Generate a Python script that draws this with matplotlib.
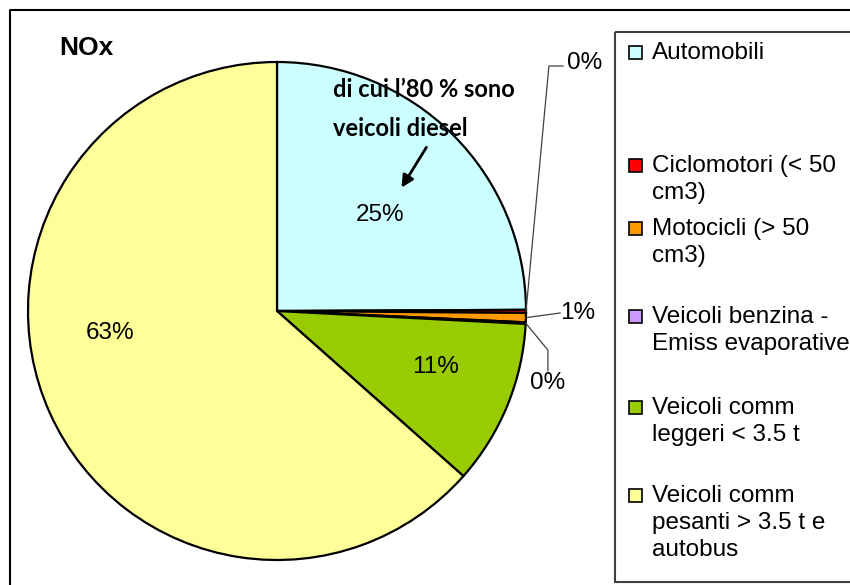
import numpy as np
import matplotlib.pyplot as plt
from matplotlib.patches import Rectangle

plt.rcParams['font.family'] = ['Liberation Sans', 'DejaVu Sans']

# data (share of NOx emissions, %)
categories = ['Automobili', 'Ciclomotori (< 50\ncm3)', 'Motocicli (> 50\ncm3)',
              'Veicoli benzina -\nEmiss evaporative', 'Veicoli comm\nleggeri < 3.5 t',
              'Veicoli comm\npesanti > 3.5 t e\nautobus']
shares = [24.9, 0.2, 0.6, 0.1, 10.7, 63.4]
colors = ['#CCFFFF', '#FF0000', '#FF9900', '#CC99FF', '#99CC00', '#FFFF99']
title = 'NOx'
note = 'di cui l\u201980 % sono\nveicoli diesel'

W, H = 850, 585
fig = plt.figure(figsize=(W / 100, H / 100), dpi=100)

# pie axes: centre (277, 311) px, radius 249 px
cx, cy, r = 277, 311, 249
ax = fig.add_axes([(cx - r) / W, (H - cy - r) / H, 2 * r / W, 2 * r / H])
wedges, texts, autotexts = ax.pie(shares, colors=colors, startangle=90, counterclock=False,
                                  radius=1, autopct='%1.0f%%',
                                  wedgeprops=dict(edgecolor='black', linewidth=1.6),
                                  textprops=dict(fontsize=17.5))
ax.set_xlim(-1, 1)
ax.set_ylim(-1, 1)
ax.set_aspect('equal')

# label placement (layout)
label_pos = [(0.414, 0.386), (1.237, 0.996), (1.209, -0.008),
             (1.088, -0.289), (0.635, -0.225), (-0.67, -0.088)]
for t, p in zip(autotexts, label_pos):
    t.set_position(p)
    t.set_ha('center')
    t.set_va('center')

# leader lines for the tiny slices
elbows = {1: [(1.092, 0.984), (1.149, 0.984)],
          2: [(1.137, -0.008)],
          3: [(1.088, -0.157), (1.088, -0.24)]}
for i, pts in elbows.items():
    w = wedges[i]
    mid = np.deg2rad((w.theta1 + w.theta2) / 2)
    xs = [np.cos(mid)] + [p[0] for p in pts]
    ys = [np.sin(mid)] + [p[1] for p in pts]
    ax.plot(xs, ys, color='#404040', lw=0.9, clip_on=False)

# note with arrow
ax.annotate('', xy=(0.494, 0.486), xytext=(0.606, 0.667),
            arrowprops=dict(arrowstyle='-|>', color='black', lw=2, mutation_scale=18))
ax.text(0.225, 0.812, note, ha='left', va='center', fontsize=17, fontweight='bold',
        family=['Lato', 'DejaVu Sans'], linespacing=1.85)

# overlay in pixel coordinates for frame, title and legend
ov = fig.add_axes([0, 0, 1, 1], zorder=-1)
ov.set_xlim(0, W)
ov.set_ylim(H, 0)
ov.axis('off')
ov.plot([10, 10, W], [H, 10, 10], color='black', lw=1.5)
ov.text(86, 48, title, ha='center', va='center', fontsize=19, fontweight='bold')

ov.add_patch(Rectangle((615, 32), 260, 550, fill=False, edgecolor='#404040', lw=1.5,
                       clip_on=False))
entry_y = [52, 165, 228, 316, 407, 495]
for lab, c, y in zip(categories, colors, entry_y):
    ov.add_patch(Rectangle((629, y - 6.5), 13, 13, facecolor=c, edgecolor='black', lw=1.2))
    ov.text(652, y - 10, lab, ha='left', va='top', fontsize=17.5, linespacing=1.3)

fig.savefig('out.png', dpi=100)
